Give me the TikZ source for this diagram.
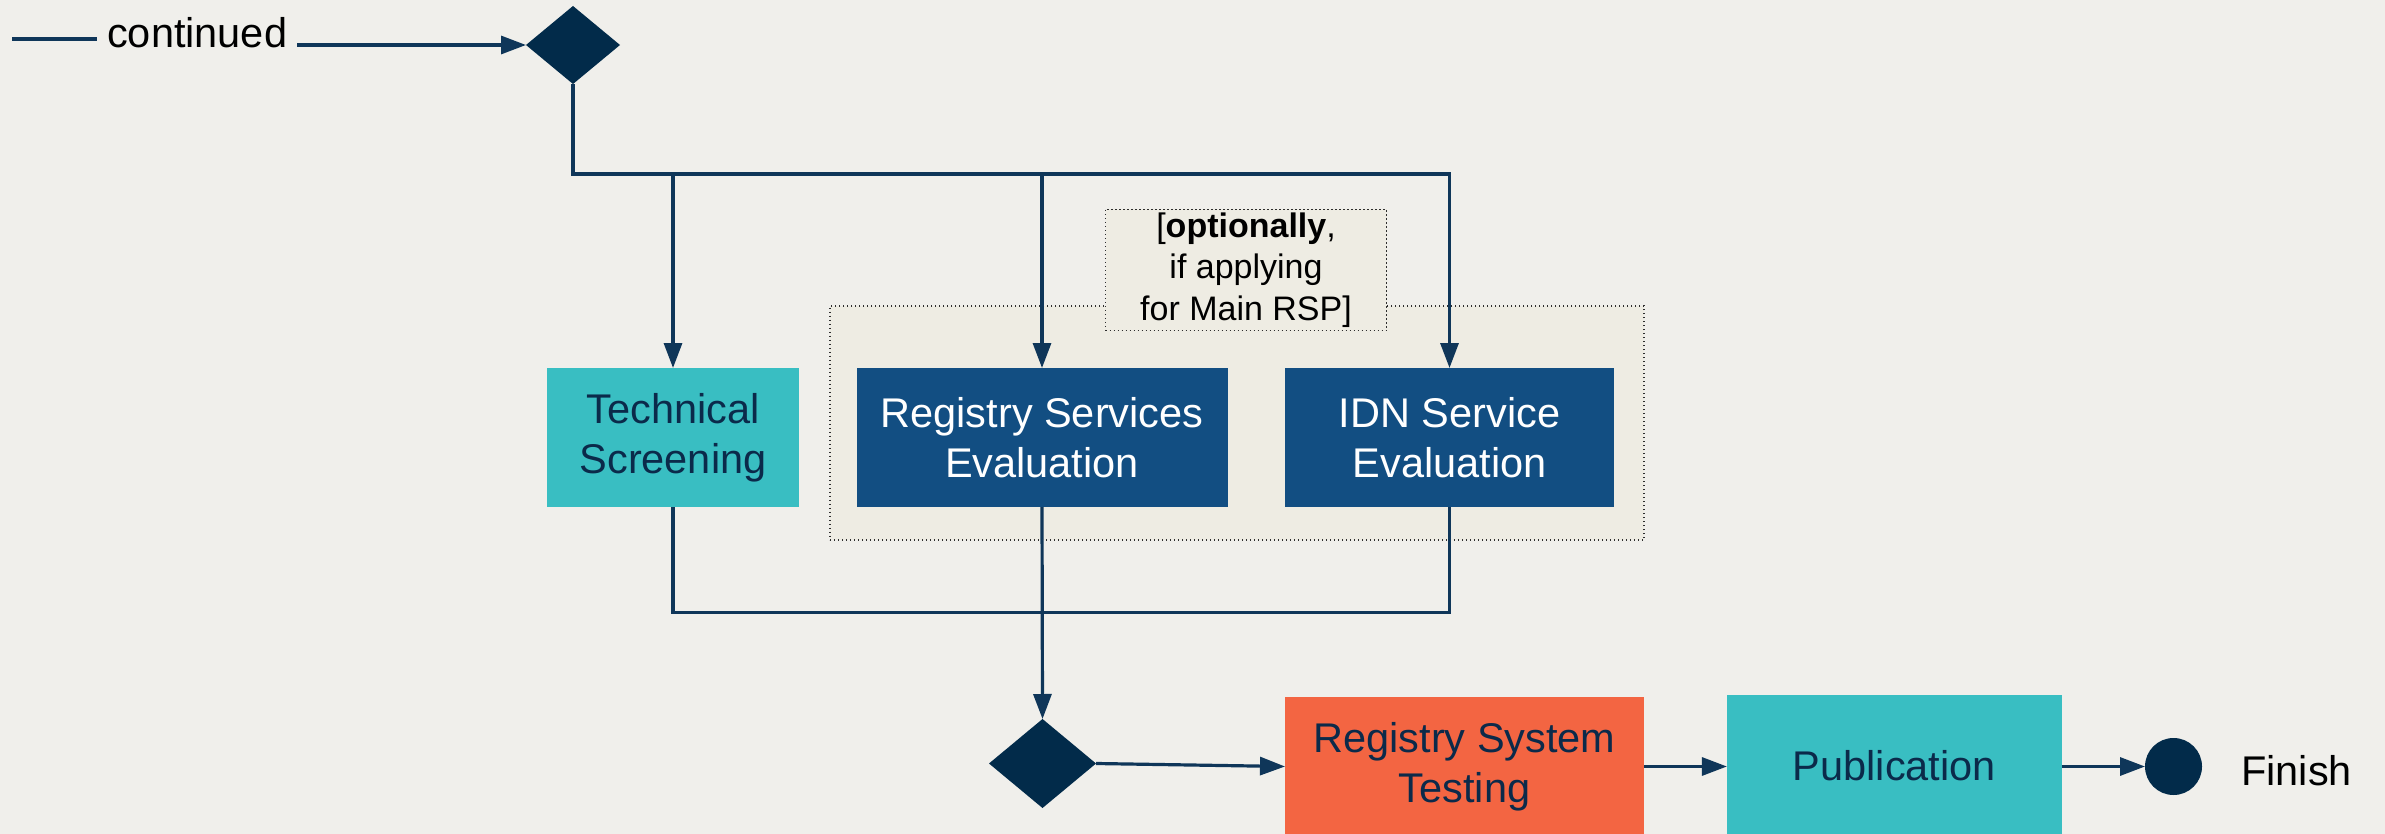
\documentclass[tikz,border=0pt]{standalone}
\usepackage{fontspec}
\setmainfont{Liberation Sans}
\usetikzlibrary{shapes.geometric,arrows.meta}
\definecolor{bgc}{HTML}{F0EFEB}
\definecolor{grpc}{HTML}{EEECE3}
\definecolor{dotc}{HTML}{2E2E2E}
\definecolor{linec}{HTML}{0F3659}
\definecolor{navy}{HTML}{022B4A}
\definecolor{navytext}{HTML}{0B2A4A}
\definecolor{tealc}{HTML}{39BEC2}
\definecolor{bluec}{HTML}{124E82}
\definecolor{orangec}{HTML}{F36542}
\newcommand\mybigfont{\fontsize{41.5pt}{50pt}\selectfont}
\newcommand\mylblfont{\fontsize{34pt}{41.5pt}\selectfont}
\tikzset{
  conn/.style={draw=linec, line width=3.2pt},
  arr/.style={conn, -{Triangle[length=25pt,width=18pt]}},
  proc/.style={rectangle, inner sep=0pt, outer sep=0pt, minimum height=139pt, align=center, font=\mybigfont},
  tealbox/.style={proc, fill=tealc, text=navytext},
  bluebox/.style={proc, fill=bluec, text=white},
  orangebox/.style={proc, fill=orangec, text=navytext},
  gate/.style={diamond, fill=navy, inner sep=0pt, outer sep=0pt},
  grpbox/.style={rectangle, fill=grpc, draw=dotc, line width=1.4pt, dash pattern=on 1.4pt off 2.6pt},
  plain/.style={inner sep=0pt, font=\mybigfont, text=black}
}
\begin{document}
\begin{tikzpicture}[x=1pt,y=-1pt]
\fill[bgc] (0,0) rectangle (2385,834);
\clip (0,0) rectangle (2385,834);
% group and label
\node[grpbox, minimum width=814pt, minimum height=234pt] (grp) at (1237,423) {};
\node[grpbox, minimum width=281pt, minimum height=120pt, font=\mylblfont, align=center, text=black] (lbl) at (1246,270) {[\textbf{optionally},\\ if applying\\ for Main RSP]};
% boxes
\node[tealbox, minimum width=252pt] (ts) at (673,437.5) {Technical\\Screening};
\node[bluebox, minimum width=371pt] (rse) at (1042,437.5) {Registry Services\\Evaluation};
\node[bluebox, minimum width=329pt] (idn) at (1449.5,437.5) {IDN Service\\Evaluation};
\node[orangebox, minimum width=359pt] (rst) at (1464.5,766.5) {Registry System\\Testing};
\node[tealbox, minimum width=335pt, minimum height=141pt] (pub) at (1894.4,765.5) {Publication};
% gates and end
\node[gate, minimum width=94pt, minimum height=78pt] (d1) at (573,45) {};
\node[gate, minimum width=107pt, minimum height=89pt] (d2) at (1042.5,763.5) {};
\node[circle, fill=navy, minimum size=57pt, inner sep=0pt, outer sep=0pt] (fin) at (2173.5,766.5) {};
\node[plain, anchor=base west] (fint) at (2241,785) {Finish};
\node[plain, anchor=base west, inner xsep=10pt] (cont) at (97,48) {continued};
\coordinate (c0) at (12,39);
\coordinate (h) at (573,174);
\coordinate (j) at (673,612.5);
% connectors
\draw[conn] (c0) -- (c0 -| cont.west);
\draw[arr] (cont.east |- d1.west) -- (d1.west);
\draw[arr] (d1.south) -- (h) -| (idn.north);
\draw[arr] (h -| ts.north) -- (ts.north);
\draw[arr] (h -| rse.north) -- (rse.north);
\draw[conn] (ts.south) |- (idn.south |- j) -- (idn.south);
\draw[arr] (rse.south) -- (d2.north);
\draw[arr] (d2.east) -- (rst.west);
\draw[arr] (rst.east) -- (rst.east -| pub.west);
\draw[arr] (pub.east |- fin.west) -- (fin.west);
\end{tikzpicture}
\end{document}
